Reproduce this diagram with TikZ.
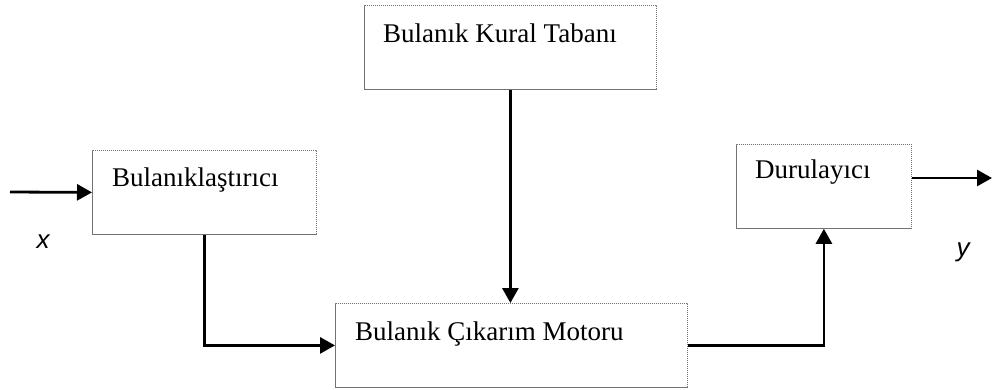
\documentclass[tikz,border=0pt]{standalone}
\usepackage{fontspec}
\setmainfont{Liberation Serif}
\newfontfamily\labelfont{Liberation Sans}
\usetikzlibrary{arrows.meta}
\tikzset{
  blockbox/.style={draw=black!55, line width=0.8pt, dash pattern=on 1.2pt off 0.8pt, inner sep=0pt, anchor=north west},
  blocktext/.style={anchor=base west, inner sep=0pt, font=\fontsize{27}{30}\selectfont},
  conn/.style={line width=2.8pt, -{Triangle[length=15pt,width=16pt]}},
  varlabel/.style={inner sep=0pt, font=\labelfont\itshape\fontsize{26}{30}\selectfont}
}
\begin{document}
\begin{tikzpicture}[x=1pt,y=-1pt]
\useasboundingbox (0,0) rectangle (992,389);
% boxes
\node[blockbox, minimum width=292pt, minimum height=84pt] (kb) at (364,5) {};
\node[blockbox, minimum width=224pt, minimum height=84pt] (fz) at (92,150) {};
\node[blockbox, minimum width=175pt, minimum height=84pt] (dz) at (736,144) {};
\node[blockbox, minimum width=352pt, minimum height=84pt] (inf) at (335,303) {};
% texts
\node[blocktext] (kbt) at (383,42) {Bulanık Kural Tabanı};
\node[blocktext] (fzt) at (112,186) {Bulanıklaştırıcı};
\node[blocktext] (dzt) at (755,178) {Durulayıcı};
\node[blocktext] (inft) at (355,340) {Bulanık Çıkarım Motoru};
% labels
\node[varlabel] (xl) at (43,242) {x};
\node[varlabel] (yl) at (963,252) {y};
% connectors
\coordinate (in) at (10,192);
\coordinate (out) at (992,178);
\draw[conn] (in) -- (fz.west);
\draw[conn] (fz.south) |- (inf.west);
\draw[conn] (kb.south) -- (kb.south |- inf.north);
\draw[conn] (inf.east) -| (dz.south);
\draw[conn] (dz.east |- out) -- (out);
\end{tikzpicture}
\end{document}
